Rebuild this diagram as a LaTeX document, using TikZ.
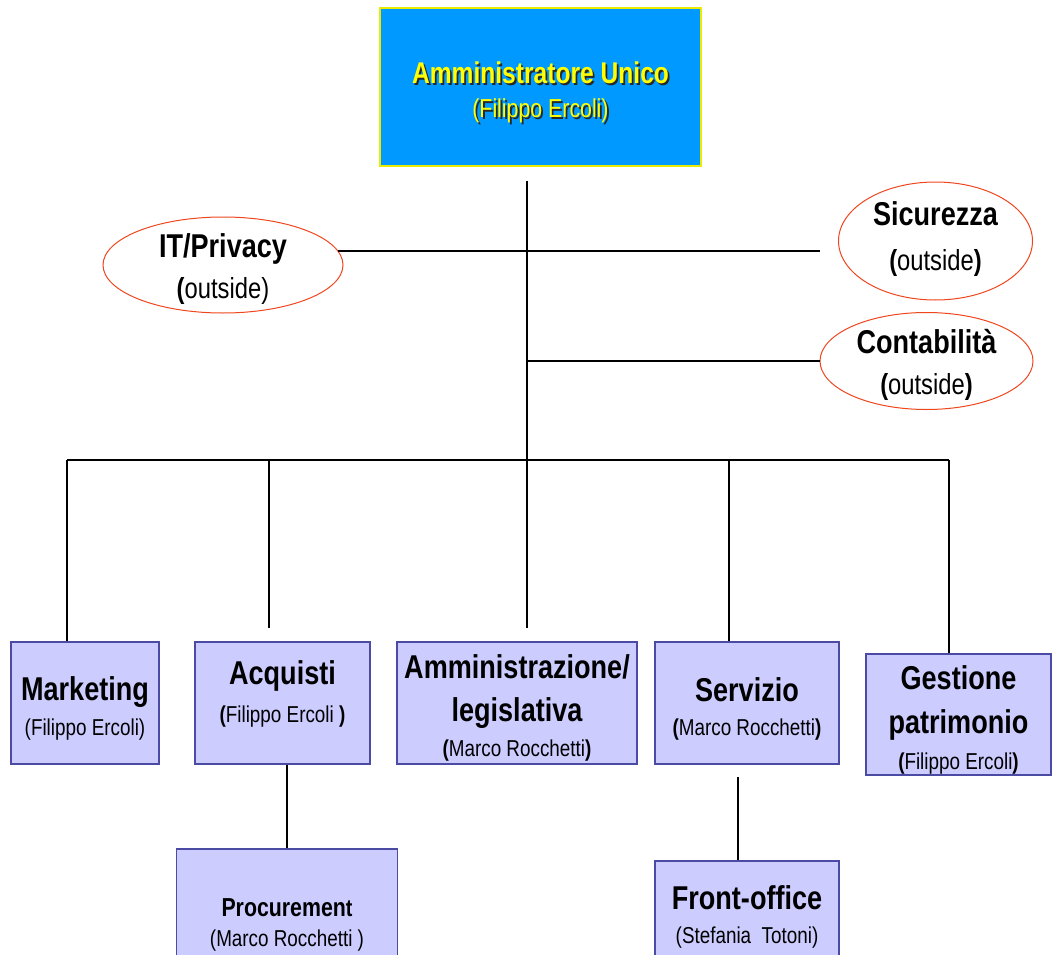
\documentclass[tikz,border=0pt]{standalone}
\usepackage{fontspec}
\setmainfont{Liberation Sans}[FakeStretch=0.82]
\usetikzlibrary{shapes.geometric}

\definecolor{bossblue}{RGB}{0,153,255}
\definecolor{bossline}{RGB}{235,235,0}
\definecolor{bosstext}{RGB}{255,255,0}
\definecolor{unitfill}{RGB}{204,204,255}
\definecolor{unitline}{RGB}{75,75,165}
\definecolor{extline}{RGB}{240,70,30}
\definecolor{shade}{RGB}{40,40,40}

\newcommand{\fsz}[1]{\fontsize{#1}{#1}\selectfont}
\newcommand{\shtext}[1]{\leavevmode\rlap{\kern1.8pt\raisebox{-1.8pt}{\color{shade}#1}}#1}
% text block of fixed rows, shifted by #1, that does not resize its node
\newcommand{\intext}[2][0pt]{\makebox[0pt]{\smash{\raisebox{#1}{\begin{tabular}{@{}c@{}}#2\end{tabular}}}}}
\newcommand{\ttl}{\fsz{33}\bfseries\rule[-8pt]{0pt}{32pt}}
\newcommand{\sub}{\fsz{23}\rule[-6pt]{0pt}{24pt}}
\newcommand{\out}{\fsz{29}\rule[-7pt]{0pt}{29pt}}

\tikzset{
  boss/.style={draw=bossline, fill=bossblue, line width=1.5pt, inner sep=0pt, text=bosstext},
  unit/.style={draw=unitline, fill=unitfill, line width=1.5pt, inner sep=0pt},
  extern/.style={ellipse, draw=extline, fill=white, line width=1pt, inner sep=0pt},
  wire/.style={line width=1.8pt},
}

\begin{document}
\begin{tikzpicture}[x=1pt,y=-1pt]
    \useasboundingbox (0,0) rectangle (1052,955);

    % top
    \node[boss, minimum width=321, minimum height=158] (boss) at (540.5,87)
        {\intext[-7.7pt]{\fsz{30}\bfseries\rule[-8pt]{0pt}{32pt}\shtext{Amministratore Unico}\\[8pt]
            \fsz{26}\rule[-7pt]{0pt}{29pt}\shtext{(Filippo Ercoli)}}};

    % outside services
    \node[extern, minimum width=240, minimum height=96] (itp) at (223,265)
        {\intext[-6.8pt]{\ttl IT/Privacy\\[16pt]\out\textbf{(}outside)}};
    \node[extern, minimum width=194, minimum height=118] (sic) at (935.5,241)
        {\intext[-1.2pt]{\ttl Sicurezza\\[19pt]\out\textbf{(}outside\textbf{)}}};
    \node[extern, minimum width=213, minimum height=97] (con) at (926.5,361)
        {\intext[-6.7pt]{\ttl Contabilità\\[16pt]\out\textbf{(}outside\textbf{)}}};

    % units
    \node[unit, minimum width=148, minimum height=122] (mkt) at (85,703)
        {\intext[-8.7pt]{\ttl Marketing\\[12.9pt]\sub(Filippo Ercoli)}};
    \node[unit, minimum width=175, minimum height=122] (acq) at (282.5,703)
        {\intext[5.8pt]{\ttl Acquisti\\[15.9pt]\sub\textbf{(}Filippo Ercoli \textbf{)}}};
    \node[unit, minimum width=240, minimum height=122] (amm) at (517,703)
        {\intext[-7.9pt]{\ttl Amministrazione/\\[15.4pt]\ttl legislativa\\[13.9pt]\sub\textbf{(}Marco Rocchetti\textbf{)}}};
    \node[unit, minimum width=184, minimum height=122] (serv) at (747,703)
        {\intext[-9.2pt]{\ttl Servizio\\[11.9pt]\sub\textbf{(}Marco Rocchetti\textbf{)}}};
    \node[unit, minimum width=185, minimum height=121] (gest) at (958.5,714.5)
        {\intext[-8.4pt]{\ttl Gestione\\[16.4pt]\ttl patrimonio\\[14.9pt]\sub\textbf{(}Filippo Ercoli\textbf{)}}};
    \node[unit, minimum width=221, minimum height=131] (proc) at (287,914.5)
        {\intext[-10.2pt]{\ttl\fsz{26}Procuremen{\fsz{24}t}\\[8.4pt]\sub(Marco Rocchetti )}};
    \node[unit, minimum width=184, minimum height=119] (front) at (747,920.5)
        {\intext[0.3pt]{\ttl Front-office\\[11.9pt]\sub(Stefania~~Totoni)}};

    % lines
    \coordinate (d1) at (67,460);
    \coordinate (d2) at (269,460);
    \coordinate (d3) at (527,460);
    \coordinate (d4) at (729,460);
    \coordinate (d5) at (949,460);
    \draw[wire, shorten <=14pt] (boss.south -| d3) -- (d3);
    \draw[wire, shorten >=18pt] (itp.7) -- (itp.7 -| sic.west);
    \draw[wire] (con.west) -- (con.west -| d3);
    \draw[wire] (d1) -- (d5);
    \foreach \d/\u in {d1/mkt,d4/serv,d5/gest}
        \draw[wire] (\d) -- (\d |- \u.north);
    \foreach \d/\u in {d2/acq,d3/amm}
        \draw[wire, shorten >=13pt] (\d) -- (\d |- \u.north);
    \draw[wire] (proc.north |- acq.south) -- (proc.north);
    \coordinate (fo) at ([xshift=-9pt]front.north);
    \draw[wire, shorten <=12pt] (fo |- serv.south) -- (fo);

\end{tikzpicture}
\end{document}
